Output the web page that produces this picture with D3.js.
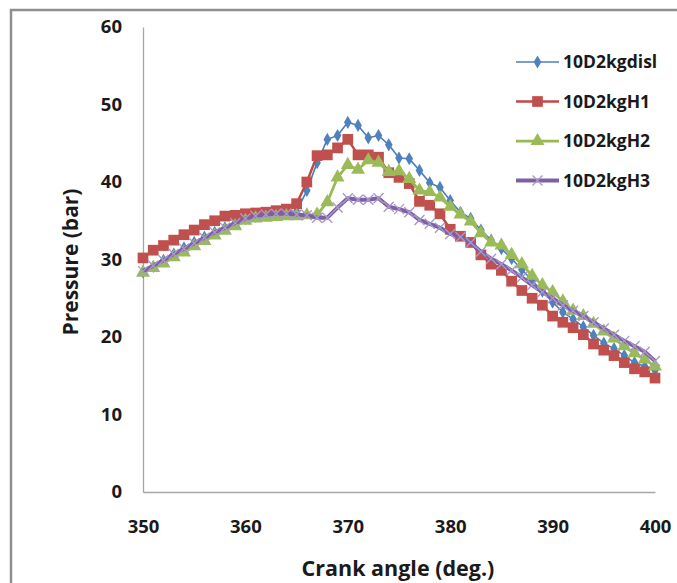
<!DOCTYPE html>
<html>
<head>
<meta charset="utf-8">
<script src="https://cdn.jsdelivr.net/npm/d3@7"></script>
<style>
  body { margin: 0; background: #fff; }
  text { font-family: "Open Sans", sans-serif; font-weight: 700; fill: #1a1a1a; }
</style>
</head>
<body>
<svg id="chart"></svg>
<script>
const width = 677;
const height = 583;
const margin = {left: 143, right: 22, top: 27, bottom: 91};

// crank angle (deg.)
const crankAngle = [350, 351, 352, 353, 354, 355, 356, 357, 358, 359,
  360, 361, 362, 363, 364, 365, 366, 367, 368, 369,
  370, 371, 372, 373, 374, 375, 376, 377, 378, 379,
  380, 381, 382, 383, 384, 385, 386, 387, 388, 389,
  390, 391, 392, 393, 394, 395, 396, 397, 398, 399, 400];

const disl = [28.4, 29.1, 29.9, 30.7, 31.5, 32.2, 32.9, 33.5, 34.1, 34.7,
  35.3, 35.6, 35.8, 35.9, 36.0, 36.2, 38.9, 42.5, 45.5, 46.0,
  47.7, 47.3, 45.7, 46.0, 44.8, 43.1, 43.0, 41.5, 39.9, 39.3,
  37.6, 36.1, 35.3, 33.8, 32.5, 31.4, 30.1, 28.7, 27.3, 25.9,
  24.5, 23.2, 22.3, 21.3, 20.2, 19.2, 18.5, 17.6, 16.7, 16.2, 15.7];

const h1 = [30.2, 31.2, 31.8, 32.5, 33.2, 33.8, 34.5, 35.0, 35.6, 35.7,
  35.9, 36.0, 36.1, 36.3, 36.5, 37.2, 40.0, 43.4, 43.5, 44.4,
  45.5, 43.5, 43.5, 43.2, 41.2, 40.6, 39.8, 37.5, 37.0, 35.9,
  33.9, 33.0, 32.2, 30.6, 29.4, 28.6, 27.2, 26.0, 25.0, 24.1,
  22.7, 21.9, 21.2, 20.3, 19.1, 18.3, 17.6, 16.7, 15.9, 15.5, 14.7];

const h2 = [28.3, 28.9, 29.5, 30.3, 30.9, 31.7, 32.4, 33.1, 33.7, 34.3,
  35.0, 35.3, 35.4, 35.5, 35.6, 35.6, 35.7, 35.8, 37.4, 40.6,
  42.2, 41.6, 42.8, 42.5, 41.3, 41.4, 40.4, 38.9, 38.7, 38.0,
  36.8, 35.8, 34.9, 33.4, 32.2, 31.8, 30.6, 29.4, 27.9, 26.7,
  25.8, 24.6, 23.4, 22.7, 21.7, 20.7, 19.8, 18.8, 17.9, 17.1, 16.2];

const h3 = [28.5, 29.2, 29.9, 30.7, 31.4, 32.1, 32.8, 33.5, 34.1, 34.7,
  35.3, 35.6, 35.8, 35.9, 35.9, 35.8, 35.7, 35.4, 35.4, 36.7,
  37.9, 37.7, 37.7, 37.9, 36.8, 36.5, 36.1, 35.1, 34.6, 34.1,
  33.3, 32.9, 32.2, 31.0, 30.1, 29.4, 28.6, 27.7, 26.7, 25.8,
  25.0, 24.1, 23.4, 22.7, 21.9, 21.1, 20.3, 19.5, 18.8, 18.1, 16.9];

const seriesNames = ['10D2kgdisl', '10D2kgH1', '10D2kgH2', '10D2kgH3'];
const seriesValues = [disl, h1, h2, h3];

const xTicks = [350, 360, 370, 380, 390, 400];
const yTicks = [0, 10, 20, 30, 40, 50, 60];

const styles = [
  {line: '#4A7EBB', lw: 1.6, marker: 'diamond', fill: '#4F81BD'},
  {line: '#BE4B48', lw: 2.5, marker: 'square', fill: '#C0504D'},
  {line: '#98B954', lw: 2.75, marker: 'triangle', fill: '#9BBB59'},
  {line: '#7D60A0', lw: 4, marker: 'x', fill: '#A898CF'}
];

const chartWidth = width - margin.left - margin.right;
const chartHeight = height - margin.top - margin.bottom;

const svg = d3.select('#chart')
  .attr('width', width)
  .attr('height', height);

// outer frame
svg.append('rect')
  .attr('x', 11)
  .attr('y', 10)
  .attr('width', 720)
  .attr('height', 620)
  .attr('fill', '#fff')
  .attr('stroke', '#8f8f8f')
  .attr('stroke-width', 2.5);

const g = svg.append('g')
  .attr('transform', `translate(${margin.left}, ${margin.top})`);

const xScale = d3.scaleLinear().domain([350, 400]).range([0, chartWidth]);
const yScale = d3.scaleLinear().domain([0, 60]).range([chartHeight, 0]);

const xAxis = g.append('g')
  .attr('transform', `translate(0, ${chartHeight})`)
  .call(d3.axisBottom(xScale).tickValues(xTicks).tickSize(0).tickPadding(28).tickFormat(d3.format('d')));
const yAxis = g.append('g')
  .call(d3.axisLeft(yScale).tickValues(yTicks).tickSize(0).tickPadding(21));

[xAxis, yAxis].forEach(ax => {
  ax.select('.domain').attr('stroke', '#a6a6a6').attr('stroke-width', 1.3);
  ax.selectAll('text')
    .style('font-family', '"Open Sans", sans-serif')
    .style('font-weight', 700)
    .style('font-size', '18.5px')
    .attr('fill', '#1a1a1a');
});

function markerPath(type) {
  if (type == 'diamond') return d3.symbol(d3.symbolDiamond, 50)();
  if (type == 'square') return d3.symbol(d3.symbolSquare, 115)();
  if (type == 'triangle') return d3.symbol(d3.symbolTriangle, 85)();
  return 'M-5,-5L5,5M-5,5L5,-5';
}

function drawMarker(sel, st) {
  sel.append('path')
    .attr('d', markerPath(st.marker))
    .attr('fill', st.marker == 'x' ? 'none' : st.fill)
    .attr('stroke', st.marker == 'x' ? st.fill : 'none')
    .attr('stroke-width', 1.4);
}

const line = d3.line()
  .x((d, i) => xScale(crankAngle[i]))
  .y(d => yScale(d));

seriesValues.forEach((vals, k) => {
  const st = styles[k];
  g.append('path')
    .datum(vals)
    .attr('fill', 'none')
    .attr('stroke', st.line)
    .attr('stroke-width', st.lw)
    .attr('stroke-linejoin', 'round')
    .attr('d', line);

  g.append('g').selectAll('g')
    .data(vals)
    .enter()
    .append('g')
    .attr('transform', (d, i) => `translate(${xScale(crankAngle[i])}, ${yScale(d)})`)
    .each(function() { drawMarker(d3.select(this), st); });
});

// axis titles
svg.append('text')
  .text('Crank angle (deg.)')
  .attr('x', 398)
  .attr('y', 576)
  .attr('text-anchor', 'middle')
  .style('font-size', '21.5px');

svg.append('text')
  .text('Pressure (bar)')
  .attr('transform', 'translate(78, 262) rotate(-90)')
  .attr('text-anchor', 'middle')
  .style('font-size', '21px');

// legend
const legend = svg.append('g').attr('transform', 'translate(516, 62)');
seriesNames.forEach((name, k) => {
  const st = styles[k];
  const row = legend.append('g').attr('transform', `translate(0, ${k * 39.5})`);
  row.append('line')
    .attr('x1', 0).attr('x2', 43)
    .attr('stroke', st.line)
    .attr('stroke-width', st.lw);
  const m = row.append('g').attr('transform', 'translate(21.5, 0)');
  drawMarker(m, st);
  row.append('text')
    .text(name)
    .attr('x', 47)
    .attr('dy', '0.36em')
    .style('font-size', '17.5px');
});
</script>
</body>
</html>
